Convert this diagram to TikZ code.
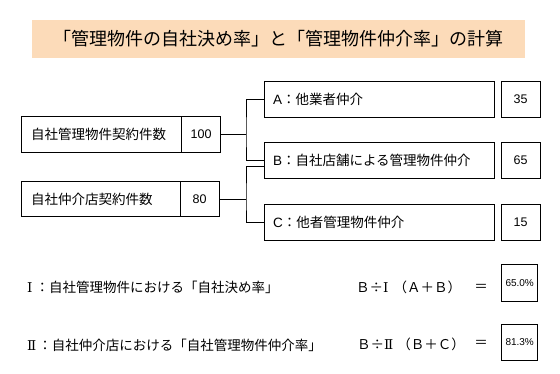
\documentclass[tikz,border=0pt]{standalone}
\usepackage{fontspec}
\usetikzlibrary{calc}
\setmainfont{Noto Sans CJK JP}
\newfontfamily\latfont{Liberation Sans}
\newfontfamily\romfont{DejaVu Serif}
\newcommand{\romI}{{\romfont Ⅰ}}
\newcommand{\romII}{{\romfont Ⅱ}}
\definecolor{peach}{RGB}{252,219,185}
\tikzset{
  box/.style={draw, line width=0.8pt, inner sep=0pt},
  lbox/.style={box, minimum height=#1, align=left, font=\fontsize{13.5}{15}\selectfont},
  nbox/.style={box, font=\latfont\fontsize{12.5}{14}\selectfont},
  pbox/.style={box, font=\latfont\fontsize{10}{12}\selectfont},
  conn/.style={line width=0.8pt},
  txt/.style={inner sep=0pt, font=\fontsize{13.5}{15}\selectfont},
}
\begin{document}
\begin{tikzpicture}[x=1pt,y=-1pt]
\useasboundingbox (0,0) rectangle (560,373);
% title
\node[fill=peach, minimum width=493pt, minimum height=38pt, inner sep=0pt,
      font=\fontsize{18}{20}\selectfont] (title) at (278.5,39)
      {「管理物件の自社決め率」と「管理物件仲介率」の計算};
% left boxes
\node[lbox=35.6pt, text width=140.7pt, inner xsep=10pt] (L1) at (101.35,134.5) {自社管理物件契約件数};
\node[nbox, minimum width=38.8pt, minimum height=35.6pt] (N1) at (201.1,134.5) {100};
\node[lbox=35pt, text width=139.3pt, inner xsep=10pt] (L2) at (100.65,199.2) {自社仲介店契約件数};
\node[nbox, minimum width=38.7pt, minimum height=35pt] (N2) at (199.65,199.2) {80};
% right boxes
\node[lbox=35.6pt, text width=212pt, inner xsep=9pt] (A) at (379,99.5) {{\latfont A}：他業者仲介};
\node[lbox=35.6pt, text width=212pt, inner xsep=9pt] (B) at (379,160.5) {{\latfont B}：自社店舗による管理物件仲介};
\node[lbox=36.4pt, text width=212pt, inner xsep=9pt] (C) at (379,222.5) {{\latfont C}：他者管理物件仲介};
\node[nbox, minimum width=39pt, minimum height=35.6pt] (NA) at (520.5,99.5) {35};
\node[nbox, minimum width=39pt, minimum height=35.6pt] (NB) at (520.5,160.5) {65};
\node[nbox, minimum width=39pt, minimum height=36.4pt] (NC) at (520.5,222.5) {15};
% connectors
\coordinate (j1) at (246,134.5);
\coordinate (j2) at (246,199.2);
\coordinate (Bl) at ($(B.west)+(0,6)$);
\draw[conn] (N1.east) -- (j1);
\draw[conn] (A.west) -| (j1) |- (B.west);
\draw[conn] (N2.east) -- (j2);
\draw[conn] (Bl) -| (j2) |- (C.west);
% bottom rows
\node[txt, anchor=west] (R1) at (27,287.5) {\romI\hspace{3pt}：自社管理物件における「自社決め率」};
\node[txt, anchor=west] (F1) at (356,287.5) {Ｂ÷\romI\hspace{5pt}（Ａ＋Ｂ）};
\node[txt] (E1) at (481,287.5) {＝};
\node[pbox, minimum width=36pt, minimum height=36.4pt] (P1) at (519.7,283) {65.0\%};
\node[txt, anchor=west] (R2) at (27,345) {\romII\hspace{2pt}：自社仲介店における「自社管理物件仲介率」};
\node[txt, anchor=west] (F2) at (357,344) {Ｂ÷\romII\hspace{4pt}（Ｂ＋Ｃ）};
\node[txt] (E2) at (481,344) {＝};
\node[pbox, minimum width=36pt, minimum height=36.7pt] (P2) at (519.7,342.5) {81.3\%};
\end{tikzpicture}
\end{document}
